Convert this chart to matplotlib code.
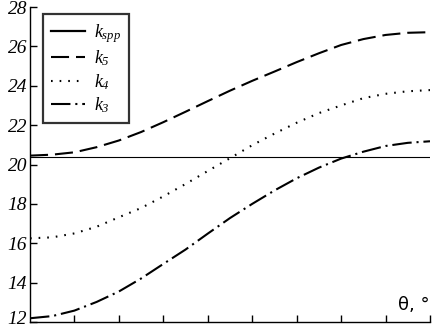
import matplotlib
matplotlib.use("Agg")
import matplotlib.pyplot as plt
from matplotlib.transforms import ScaledTranslation

# theta, degrees
theta = [0, 5, 10, 15, 20, 25, 30, 35, 40, 45, 50, 55, 60, 65, 70, 75, 80, 85, 90]

k_spp = 20.37
k5 = [20.45, 20.50, 20.62, 20.88, 21.22, 21.65, 22.15, 22.68, 23.22, 23.75,
      24.25, 24.72, 25.20, 25.65, 26.07, 26.37, 26.58, 26.69, 26.72]
k4 = [16.25, 16.30, 16.50, 16.84, 17.32, 17.79, 18.38, 19.01, 19.67, 20.32,
      20.98, 21.57, 22.12, 22.61, 23.00, 23.37, 23.59, 23.72, 23.78]
k3 = [12.19, 12.30, 12.58, 13.02, 13.55, 14.21, 14.95, 15.68, 16.49, 17.28,
      18.00, 18.68, 19.30, 19.84, 20.30, 20.65, 20.94, 21.10, 21.18]

yticks = [12, 14, 16, 18, 20, 22, 24, 26, 28]
xticks = [10, 20, 30, 40, 50, 60, 70, 80, 90]

plt.rcParams['lines.scale_dashes'] = False
plt.rcParams['mathtext.fontset'] = 'custom'
plt.rcParams['mathtext.it'] = 'Liberation Serif:italic'
plt.rcParams['mathtext.rm'] = 'Liberation Serif:italic'

fig = plt.figure(figsize=(4.32, 3.27), dpi=100)
ax = fig.add_axes([30 / 432, 1 - 322 / 327, 400 / 432, 315 / 327])

ax.axhline(k_spp, color='black', lw=0.8, label='$k_{spp}$')
ax.plot(theta, k5, color='black', lw=1.5, dashes=(13, 5), label=r'$k_{\mathit{5}}$')
ax.plot(theta, k4, color='black', lw=1.5, dashes=(1.2, 5), label=r'$k_{\mathit{4}}$')
ax.plot(theta, k3, color='black', lw=1.5, dashes=(14, 3.5, 1.5, 3.5), label=r'$k_{\mathit{3}}$')

ax.set_xlim(0, 90)
ax.set_ylim(12, 28)
ax.set_xticks(xticks)
ax.set_xticklabels([])
ax.set_yticks(yticks)
ax.set_yticklabels([str(t) for t in yticks], fontfamily='Liberation Serif',
                   fontstyle='italic', fontsize=14)
ax.tick_params(axis='both', direction='in', length=5, width=1, color='black')
ax.tick_params(axis='y', pad=2)
ax.spines['top'].set_visible(False)
ax.spines['right'].set_visible(False)
ax.spines['left'].set_linewidth(1)
ax.spines['bottom'].set_linewidth(1)

# keep the lowest label inside the picture
lab = ax.get_yticklabels()[0]
lab.set_transform(lab.get_transform() + ScaledTranslation(0, 5 / 100, fig.dpi_scale_trans))

ax.text(1.0, 0.025, 'θ, °', transform=ax.transAxes, ha='right', va='bottom',
        fontsize=13, fontfamily='DejaVu Sans')

leg = ax.legend(loc='upper left', bbox_to_anchor=(0.0325, 0.978), fontsize=13,
                frameon=True, fancybox=False, handlelength=1.9,
                handletextpad=0.45, labelspacing=0.2, borderaxespad=0,
                borderpad=0.45)
leg.get_frame().set_edgecolor('black')
leg.get_frame().set_linewidth(1.6)
leg.get_lines()[0].set_linewidth(1.6)

fig.savefig('out.png', dpi=100)
